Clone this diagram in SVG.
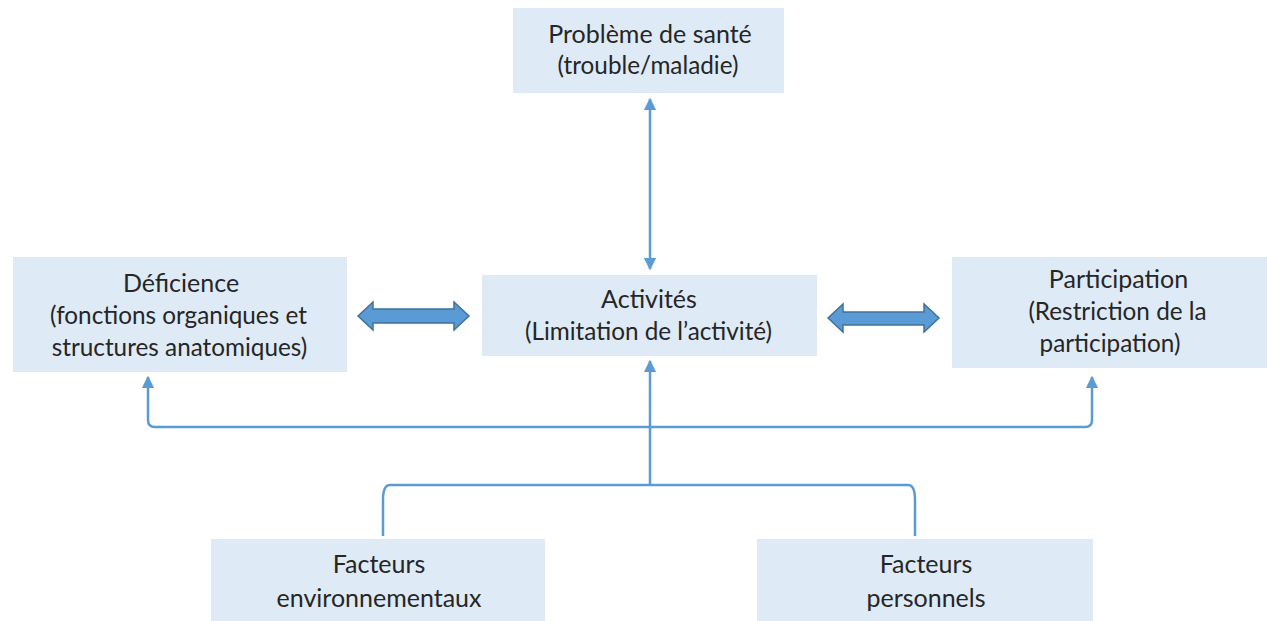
<svg xmlns="http://www.w3.org/2000/svg" width="1267" height="621" viewBox="0 0 1267 621">
<defs>
<style>
.box{fill:#DEEAF6;}
.t1{font-family:Lato,"Open Sans","Liberation Sans",sans-serif;font-size:25px;fill:#262626;text-anchor:middle;}
.t2{font-family:Lato,"Open Sans","Liberation Sans",sans-serif;font-size:24.3px;fill:#262626;text-anchor:middle;}
.ln{fill:none;stroke:#5B9BD5;stroke-width:2.5;}
.blk{fill:#5B9BD5;stroke:#41719C;stroke-width:1.5;}
</style>
<marker id="ah" viewBox="0 0 10 10" refX="9" refY="5" markerWidth="5" markerHeight="5" orient="auto-start-reverse" markerUnits="strokeWidth">
<path d="M0,0 L10,5 L0,10 z" fill="#5B9BD5"/>
</marker>
</defs>
<rect width="1267" height="621" fill="#FFFFFF"/>
<g id="sante">
<rect class="box" x="513" y="8" width="271" height="85"/>
<text class="t1" x="650" y="43">Problème de santé</text>
<text class="t2" x="648" y="74">(trouble/maladie)</text>
</g>
<g id="deficience">
<rect class="box" x="13" y="257" width="334" height="115"/>
<text class="t1" x="181" y="292">Déficience</text>
<text class="t2" x="178.5" y="324">(fonctions organiques et</text>
<text class="t2" x="179.5" y="356">structures anatomiques)</text>
</g>
<g id="activites">
<rect class="box" x="482" y="275" width="335" height="81"/>
<text class="t1" x="649" y="308">Activités</text>
<text class="t2" x="648.5" y="340">(Limitation de l’activité)</text>
</g>
<g id="participation">
<rect class="box" x="952" y="257" width="315" height="111"/>
<text class="t1" x="1118.5" y="288">Participation</text>
<text class="t2" x="1117.5" y="320">(Restriction de la</text>
<text class="t2" x="1110" y="352">participation)</text>
</g>
<g id="env">
<rect class="box" x="211" y="539" width="334" height="82"/>
<text class="t1" x="379" y="573">Facteurs</text>
<text class="t1" x="379" y="607">environnementaux</text>
</g>
<g id="pers">
<rect class="box" x="757" y="539" width="336" height="82"/>
<text class="t1" x="926" y="573">Facteurs</text>
<text class="t1" x="926" y="607">personnels</text>
</g>
<g id="connectors">
<path class="ln" d="M650,99 L650,269" marker-start="url(#ah)" marker-end="url(#ah)"/>
<path class="ln" d="M650,485 L650,361" marker-end="url(#ah)"/>
<path class="ln" d="M383,536 L383,500 Q383,485 390,485 L908,485 Q915,485 915,500 L915,536"/>
<path class="ln" d="M148,377 L148,420 Q148,427 155,427 L1085,427 Q1092,427 1092,420 L1092,377" marker-start="url(#ah)" marker-end="url(#ah)"/>
<path class="blk" d="M358,316 L373,302 L373,309 L454,309 L454,302 L469,316 L454,330 L454,323 L373,323 L373,330 z"/>
<path class="blk" d="M828,318 L843,304 L843,312 L924,312 L924,304 L939,318 L924,332 L924,325 L843,325 L843,332 z"/>
</g>
</svg>
